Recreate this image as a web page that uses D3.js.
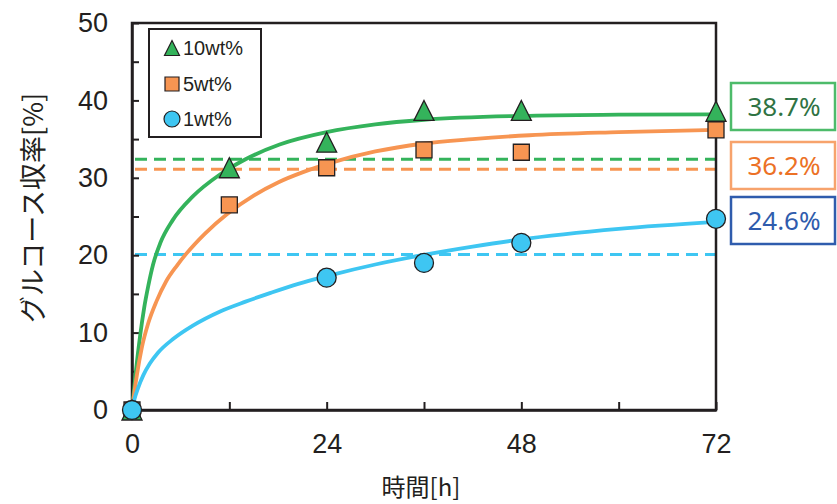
<!DOCTYPE html>
<html>
<head>
<meta charset="utf-8">
<script src="https://cdn.jsdelivr.net/npm/d3@7"></script>
<style>
  body { margin: 0; background: #fff; }
  text { font-family: "Liberation Sans", Arial, sans-serif; fill: #231f20; }
</style>
</head>
<body>
<div id="chart"></div>
<script>
// measured points
const times = [0, 12, 24, 36, 48, 72];
const yield10 = [0, 31.3, 34.6, 38.7, 38.7, 38.6];
const yield5 = [0, 26.5, 31.3, 33.6, 33.3, 36.2];
const yield1 = [0, null, 17.1, 19.0, 21.6, 24.7];

// fitted curves
const fit10 = [[0, 0], [0.5, 5.2], [1, 9.6], [1.5, 13.2], [2, 16.0], [2.6, 18.8], [3.5, 21.6], [5, 24.5], [7.5, 27.6],
    [10.8, 30.4], [14, 32.4], [18.2, 34.3], [24, 35.9], [30, 36.9], [36, 37.5], [48, 38.0], [60, 38.15], [72, 38.2]];
const fit5 = [[0, 0], [0.6, 4.5], [1.2, 8.0], [2, 11.2], [3, 14.0], [4.2, 16.6], [5.5, 18.6], [6.7, 20.2], [9, 22.8],
    [11.7, 25.3], [15, 27.7], [18, 29.4], [21, 30.7], [24.4, 31.9], [30, 33.4], [35.8, 34.4], [42, 35.0], [49, 35.5],
    [60, 35.9], [72, 36.2]];
const fit1 = [[0, 0], [0.3, 1.4], [0.7, 2.7], [1.4, 4.5], [2.2, 6.0], [3.2, 7.4], [5.1, 9.2], [7.5, 10.9], [10.8, 12.7],
    [14, 14.0], [17, 15.1], [20.5, 16.3], [24.4, 17.4], [30, 18.8], [35.8, 20.0], [42, 21.1], [47.7, 22.0], [60, 23.4],
    [72, 24.3]];

// dashed reference levels
const refLevels = [32.4, 31.1, 20.1];
const boxLabels = ["38.7%", "36.2%", "24.6%"];
const legendNames = ["10wt%", "5wt%", "1wt%"];

const xTicks = [0, 12, 24, 36, 48, 60, 72];
const yTicks = [0, 5, 10, 15, 20, 25, 30, 35, 40, 45, 50];

const colors = ["#34b35b", "#f79552", "#3ec6f2"];
const boxStroke = ["#4dbb6a", "#f7a36c", "#2f5cad"];
const boxText = ["#2f7343", "#ec7125", "#2f5cad"];

const width = 837, height = 504;
const svg = d3.select("#chart").append("svg")
    .attr("width", width)
    .attr("height", height);

const x = d3.scaleLinear().domain([0, 72]).range([132, 716]);
const y = d3.scaleLinear().domain([0, 50]).range([410, 23]);

// markers
const triShape = {
    draw(ctx, size) {
        const h = Math.sqrt(size) / 2;
        ctx.moveTo(0, -h);
        ctx.lineTo(h, h);
        ctx.lineTo(-h, h);
        ctx.closePath();
    }
};
const sqShape = {
    draw(ctx, size) {
        const h = Math.sqrt(size) / 2;
        ctx.rect(-h, -h, h * 2, h * 2);
    }
};

// dashed lines
svg.selectAll(".ref")
    .data(refLevels)
    .enter()
    .append("line")
    .attr("class", "ref")
    .attr("x1", x(0) + 3)
    .attr("x2", x(72))
    .attr("y1", d => y(d))
    .attr("y2", d => y(d))
    .attr("stroke", (d, i) => colors[i])
    .attr("stroke-width", 3)
    .attr("stroke-dasharray", "12,7");

// frame
svg.append("rect")
    .attr("x", x(0))
    .attr("y", y(50))
    .attr("width", x(72) - x(0))
    .attr("height", y(0) - y(50))
    .attr("fill", "none")
    .attr("stroke", "#231f20")
    .attr("stroke-width", 2.5);

// x axis
const xAxis = svg.append("g")
    .attr("transform", "translate(0," + y(0) + ")")
    .call(d3.axisBottom(x).tickValues(xTicks).tickSizeInner(-8).tickSizeOuter(0).tickPadding(24)
        .tickFormat(d => d % 24 === 0 ? d : ""));

// y axis
const yAxis = svg.append("g")
    .attr("transform", "translate(" + x(0) + ",0)")
    .call(d3.axisLeft(y).tickValues(yTicks).tickSizeInner(-7).tickSizeOuter(0).tickPadding(24)
        .tickFormat(d => d % 10 === 0 ? d : ""));

[xAxis, yAxis].forEach(g => {
    g.select(".domain").attr("stroke", "#231f20").attr("stroke-width", 2.5);
    g.selectAll(".tick line").attr("stroke", "#231f20").attr("stroke-width", 2);
    g.selectAll(".tick text")
        .attr("font-size", 27)
        .attr("font-family", "Liberation Sans, Arial, sans-serif")
        .attr("fill", "#231f20");
});

// curves
const line = d3.line()
    .x(d => x(d[0]))
    .y(d => y(d[1]))
    .curve(d3.curveMonotoneX);

[fit10, fit5, fit1].forEach((fit, i) => {
    svg.append("path")
        .datum(fit)
        .attr("d", line)
        .attr("fill", "none")
        .attr("stroke", colors[i])
        .attr("stroke-width", 3.8);
});

// points: squares, triangles, circles
function pts(vals) {
    return times.map((t, i) => ({ t: t, v: vals[i] })).filter(d => d.v !== null);
}

svg.selectAll(".sq")
    .data(pts(yield5))
    .enter()
    .append("path")
    .attr("class", "sq")
    .attr("d", d3.symbol(sqShape, 256))
    .attr("transform", d => "translate(" + x(d.t) + "," + y(d.v) + ")")
    .attr("fill", colors[1])
    .attr("stroke", "#231f20")
    .attr("stroke-width", 1.3);

svg.selectAll(".tri")
    .data(pts(yield10))
    .enter()
    .append("path")
    .attr("class", "tri")
    .attr("d", d3.symbol(triShape, 400))
    .attr("transform", d => "translate(" + x(d.t) + "," + y(d.v) + ")")
    .attr("fill", colors[0])
    .attr("stroke", "#231f20")
    .attr("stroke-width", 1.3);

svg.selectAll(".dot")
    .data(pts(yield1))
    .enter()
    .append("circle")
    .attr("class", "dot")
    .attr("cx", d => x(d.t))
    .attr("cy", d => y(d.v))
    .attr("r", 9.5)
    .attr("fill", colors[2])
    .attr("stroke", "#231f20")
    .attr("stroke-width", 1.3);

// legend
const legend = svg.append("g");
legend.append("rect")
    .attr("x", 149)
    .attr("y", 29)
    .attr("width", 112)
    .attr("height", 108)
    .attr("fill", "#fff")
    .attr("stroke", "#231f20")
    .attr("stroke-width", 2);

const legendY = [48, 84, 119];
legendNames.forEach((name, i) => {
    const g = legend.append("g").attr("transform", "translate(172," + legendY[i] + ")");
    if (i === 0) {
        g.append("path").attr("d", d3.symbol(triShape, 225)).attr("fill", colors[0])
            .attr("stroke", "#231f20").attr("stroke-width", 1.2);
    } else if (i === 1) {
        g.append("path").attr("d", d3.symbol(sqShape, 196)).attr("fill", colors[1])
            .attr("stroke", "#231f20").attr("stroke-width", 1.2);
    } else {
        g.append("circle").attr("r", 8).attr("fill", colors[2])
            .attr("stroke", "#231f20").attr("stroke-width", 1.2);
    }
    g.append("text")
        .attr("x", 11)
        .attr("dy", "0.36em")
        .attr("font-size", 20)
        .text(name);
});

// result boxes
const boxTop = [83, 142, 197];
boxLabels.forEach((lab, i) => {
    svg.append("rect")
        .attr("x", 731)
        .attr("y", boxTop[i])
        .attr("width", 104)
        .attr("height", 47)
        .attr("fill", "#fff")
        .attr("stroke", boxStroke[i])
        .attr("stroke-width", 2.5);
    svg.append("text")
        .attr("x", 784)
        .attr("y", boxTop[i] + 24)
        .attr("dy", "0.36em")
        .attr("text-anchor", "middle")
        .style("font-family", "'Noto Sans', sans-serif")
        .style("fill", boxText[i])
        .attr("font-size", 26)
        .text(lab);
});

// axis titles
svg.append("text")
    .attr("x", 421)
    .attr("y", 487)
    .attr("dy", "0.36em")
    .attr("text-anchor", "middle")
    .style("font-family", "'Noto Sans CJK JP', sans-serif")
    .attr("font-size", 24)
    .text("時間[h]");

svg.append("text")
    .attr("transform", "translate(33,208) rotate(-90)")
    .attr("dy", "0.36em")
    .attr("text-anchor", "middle")
    .style("font-family", "'Noto Sans CJK JP', sans-serif")
    .attr("font-size", 27)
    .text("グルコース収率[%]");
</script>
</body>
</html>
